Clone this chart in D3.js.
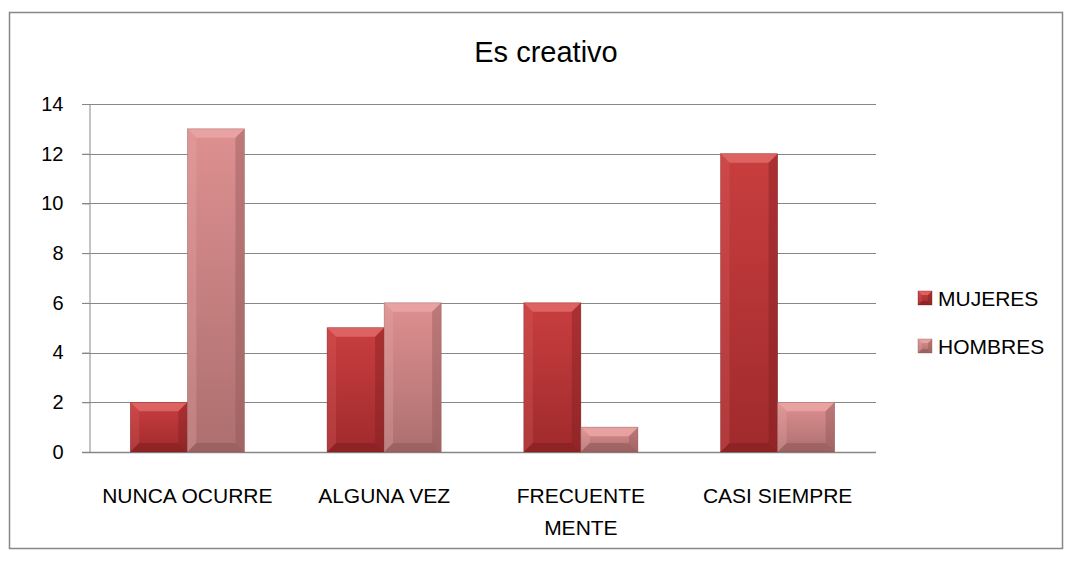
<!DOCTYPE html>
<html><head><meta charset="utf-8">
<script src="https://cdnjs.cloudflare.com/ajax/libs/d3/7.8.5/d3.min.js"></script>
<style>body{margin:0;background:#fff}svg{display:block}text{font-family:"Liberation Sans",Arial,sans-serif;fill:#000}</style>
</head><body>
<svg id="c" width="1065" height="565"></svg>
<script>
const categories = [["NUNCA OCURRE"], ["ALGUNA VEZ"], ["FRECUENTE", "MENTE"], ["CASI SIEMPRE"]];
const seriesNames = ["MUJERES", "HOMBRES"];
const mujeres = [2, 5, 6, 12];
const hombres = [13, 6, 1, 2];
const yTicks = [0, 2, 4, 6, 8, 10, 12, 14];
const title = "Es creativo";

const svg = d3.select("#c");
const defs = svg.append("defs");
const pal = [
  {light:"#d8605f", dark:"#7e1e20", top:"#e06a68", grad:["#c93e3f","#a02a2c"]},
  {light:"#e8aaaa", dark:"#8e5656", top:"#eba6a6", grad:["#de9090","#ad6f6f"]}
];
pal.forEach((p,i)=>{
  const g = defs.append("linearGradient").attr("id","g"+i).attr("x1",0).attr("y1",0).attr("x2",0).attr("y2",1);
  g.append("stop").attr("offset","0%").attr("stop-color",p.grad[0]);
  g.append("stop").attr("offset","100%").attr("stop-color",p.grad[1]);
});

svg.append("rect").attr("x",9.5).attr("y",12.5).attr("width",1053).attr("height",536).attr("fill","#fff").attr("stroke","#878787").attr("stroke-width",1.5);

const x0 = d3.scaleBand().domain(d3.range(categories.length)).range([89,876]).paddingInner(0.42).paddingOuter(0.21);
const x1 = d3.scaleBand().domain([0,1]).range([0,x0.bandwidth()]);
const y = d3.scaleLinear().domain([0,14]).range([452,104]);

svg.append("g").selectAll("line").data(yTicks.filter(d=>d>0)).join("line")
  .attr("x1",82).attr("x2",876).attr("y1",d=>Math.round(y(d))+0.5).attr("y2",d=>Math.round(y(d))+0.5)
  .attr("stroke","#878787").attr("stroke-width",1);

const yAxis = svg.append("g").attr("transform","translate(89.5,0)")
  .call(d3.axisLeft(y).tickValues(yTicks).tickSize(7).tickPadding(19).tickFormat(d3.format("d")));
yAxis.select(".domain").attr("stroke","#878787");
yAxis.selectAll(".tick line").attr("stroke","#878787");
yAxis.selectAll("text").attr("font-size",20).attr("fill","#000").attr("font-family","Liberation Sans, Arial, sans-serif");

svg.append("line").attr("x1",82).attr("x2",876).attr("y1",452.5).attr("y2",452.5).attr("stroke","#878787").attr("stroke-width",1.5);

const data = [mujeres, hombres];
function bevelBar(g, x, yTop, w, h, p, i, bmax){
  const b = Math.min(bmax, h/2, w/2);
  const yb = yTop + h;
  g.append("rect").attr("x",x).attr("y",yTop).attr("width",w).attr("height",h).attr("fill",`url(#g${i})`);
  g.append("polygon").attr("points",[[x,yTop],[x+w,yTop],[x+w-b,yTop+b],[x+b,yTop+b]].join(" ")).attr("fill",p.top).attr("opacity",0.85);
  g.append("polygon").attr("points",[[x,yTop],[x+b,yTop+b],[x+b,yb-b],[x,yb]].join(" ")).attr("fill",p.light).attr("opacity",0.3);
  g.append("polygon").attr("points",[[x+w,yTop],[x+w-b,yTop+b],[x+w-b,yb-b],[x+w,yb]].join(" ")).attr("fill",p.dark).attr("opacity",0.4);
  g.append("polygon").attr("points",[[x,yb],[x+b,yb-b],[x+w-b,yb-b],[x+w,yb]].join(" ")).attr("fill",p.dark).attr("opacity",0.55);
  g.append("rect").attr("x",x).attr("y",yTop).attr("width",w).attr("height",h).attr("fill","none").attr("stroke",p.dark).attr("stroke-width",0.6).attr("opacity",0.6);
}
const bars = svg.append("g");
categories.forEach((c,ci)=>{
  data.forEach((s,si)=>{
    const xx = x0(ci)+x1(si), yt = y(s[ci]), h = y(0)-y(s[ci]);
    bevelBar(bars, xx, yt, x1.bandwidth(), h, pal[si], si, 9);
  });
});

const xl = svg.append("g");
categories.forEach((lines,ci)=>{
  const cx = x0(ci)+x0.bandwidth()/2;
  const t = xl.append("text").attr("x",cx).attr("y",503).attr("text-anchor","middle").attr("font-size",21);
  lines.forEach((l,li)=>t.append("tspan").attr("x",cx).attr("dy",li?32:0).text(l));
});

svg.append("text").attr("x",546).attr("y",62).attr("text-anchor","middle").attr("font-size",29).text(title);

seriesNames.forEach((n,i)=>{
  const ly = 291 + i*48;
  const g = svg.append("g");
  bevelBar(g, 918, ly, 14, 14, pal[i], i, 4);
  g.append("text").attr("x",938).attr("y",ly+15).attr("font-size",21).text(n);
});
</script>
</body></html>
